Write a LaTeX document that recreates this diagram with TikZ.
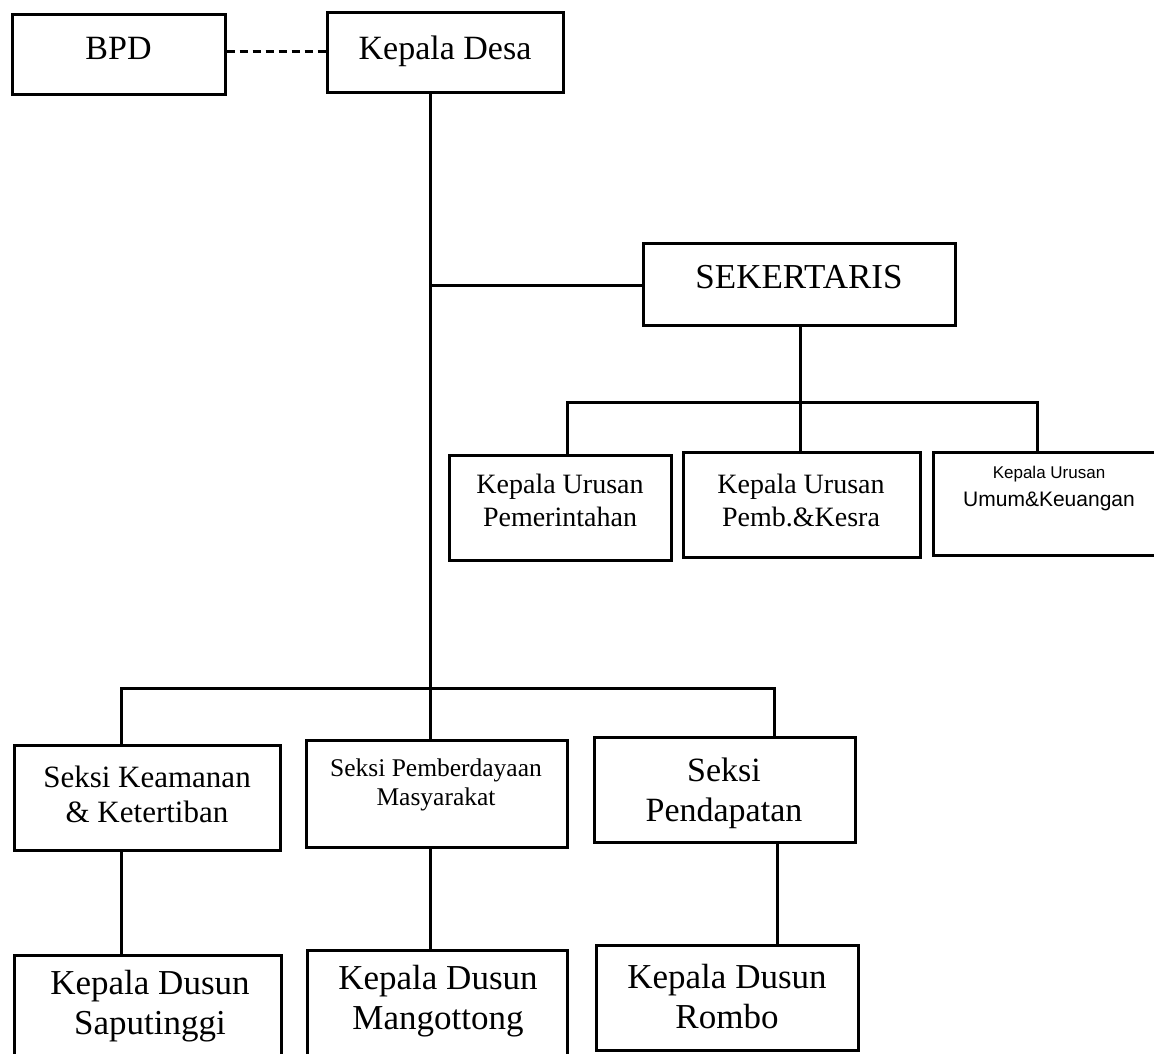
\documentclass[tikz,border=0pt]{standalone}
\usepackage{fontspec}
\setmainfont{Liberation Serif}
\newfontfamily\arialfont{Liberation Sans}
\begin{document}
\begin{tikzpicture}[x=1pt,y=-1pt,
  box/.style={draw=black,line width=3pt,rectangle,inner sep=0pt},
  txt/.style={align=center,inner sep=0pt,anchor=center},
  conn/.style={draw=black,line width=3pt},
  big/.style={font=\fontsize{34}{40}\selectfont},
  mid/.style={font=\fontsize{28}{33}\selectfont},
  sml/.style={font=\arialfont\fontsize{18}{28}\selectfont},
  skk/.style={font=\fontsize{31}{35}\selectfont},
  spm/.style={font=\fontsize{25.5}{29}\selectfont}]
\path[use as bounding box] (0,0) rectangle (1154,1054);
\clip (0,0) rectangle (1154,1054);
\fill[white] (0,0) rectangle (1154,1054);

% boxes
\node[box,minimum width=213pt,minimum height=80pt] (bpd) at (118.5,55) {};
\node[box,minimum width=236pt,minimum height=80pt] (kd) at (445,53) {};
\node[box,minimum width=312pt,minimum height=82pt] (sek) at (799,284) {};
\node[box,minimum width=222pt,minimum height=105pt] (kup) at (560,507.5) {};
\node[box,minimum width=237pt,minimum height=105pt] (kupk) at (801.5,504.5) {};
\node[box,minimum width=227pt,minimum height=103pt] (kuuk) at (1046.5,503.5) {};
\node[box,minimum width=266pt,minimum height=105pt] (skk) at (147,797.5) {};
\node[box,minimum width=261pt,minimum height=107pt] (spm) at (436.5,793.5) {};
\node[box,minimum width=261pt,minimum height=105pt] (sp) at (724.5,789.5) {};
\node[box,minimum width=267pt,minimum height=105pt] (kds) at (147.5,1008) {};
\node[box,minimum width=260pt,minimum height=105pt] (kdm) at (437,1003) {};
\node[box,minimum width=262pt,minimum height=105pt] (kdr) at (727,997.5) {};

% texts
\node[txt,big] (bpdt) at (118.5,48) {BPD};
\node[txt,big] (kdt) at (445,51) {Kepala Desa};
\node[txt,font=\fontsize{35}{40}\selectfont] (sekt) at (799,277) {SEKERTARIS};
\node[txt,mid] (kupt) at (560,500) {Kepala Urusan\\Pemerintahan};
\node[txt,mid] (kupkt) at (801,500) {Kepala Urusan\\Pemb.\&Kesra};
\node[txt,sml] (kuukt) at (1049,489) {{\fontsize{17}{28}\selectfont Kepala Urusan}\\{\fontsize{21}{28}\selectfont Umum\&Keuangan}};
\node[txt,skk] (skkt) at (147,794) {Seksi Keamanan\\\& Ketertiban};
\node[txt,spm] (spmt) at (436,785) {Seksi Pemberdayaan\\Masyarakat};
\node[txt,big] (spt) at (724,793) {Seksi\\Pendapatan};
\node[txt,font=\fontsize{35}{40}\selectfont] (kdst) at (150,1006) {Kepala Dusun\\Saputinggi};
\node[txt,font=\fontsize{35}{40}\selectfont] (kdmt) at (438,1001) {Kepala Dusun\\Mangottong};
\node[txt,font=\fontsize{35}{40}\selectfont] (kdrt) at (727,997) {Kepala Dusun\\Rombo};

% junction coordinates
\coordinate (j1) at (430,285);
\coordinate (j2) at (430,688);
\coordinate (s1) at (800,402);
\coordinate (b1) at (567,402);
\coordinate (b3) at (1037,402);
\coordinate (c1) at (121,688);
\coordinate (c3) at (774,688);
\coordinate (d3) at (777,900);

% connectors
\draw[conn,dash pattern=on 8pt off 5pt] (bpd.east |- 0,52) -- (kd.west |- 0,52);
\draw[conn] (kd.south -| j1) -- (j2);
\draw[conn] (j1) -- (sek.west |- j1);
\draw[conn] (sek.south -| s1) -- (kupk.north -| s1);
\draw[conn] (kup.north -| b1) -- (b1) -- (b3) -- (kuuk.north -| b3);
\draw[conn] (skk.north -| c1) -- (c1) -- (c3) -- (sp.north -| c3);
\draw[conn] (j2) -- (spm.north -| j2);
\draw[conn] (skk.south -| c1) -- (kds.north -| c1);
\draw[conn] (spm.south -| j2) -- (kdm.north -| j2);
\draw[conn] (sp.south -| d3) -- (kdr.north -| d3);
\end{tikzpicture}
\end{document}
